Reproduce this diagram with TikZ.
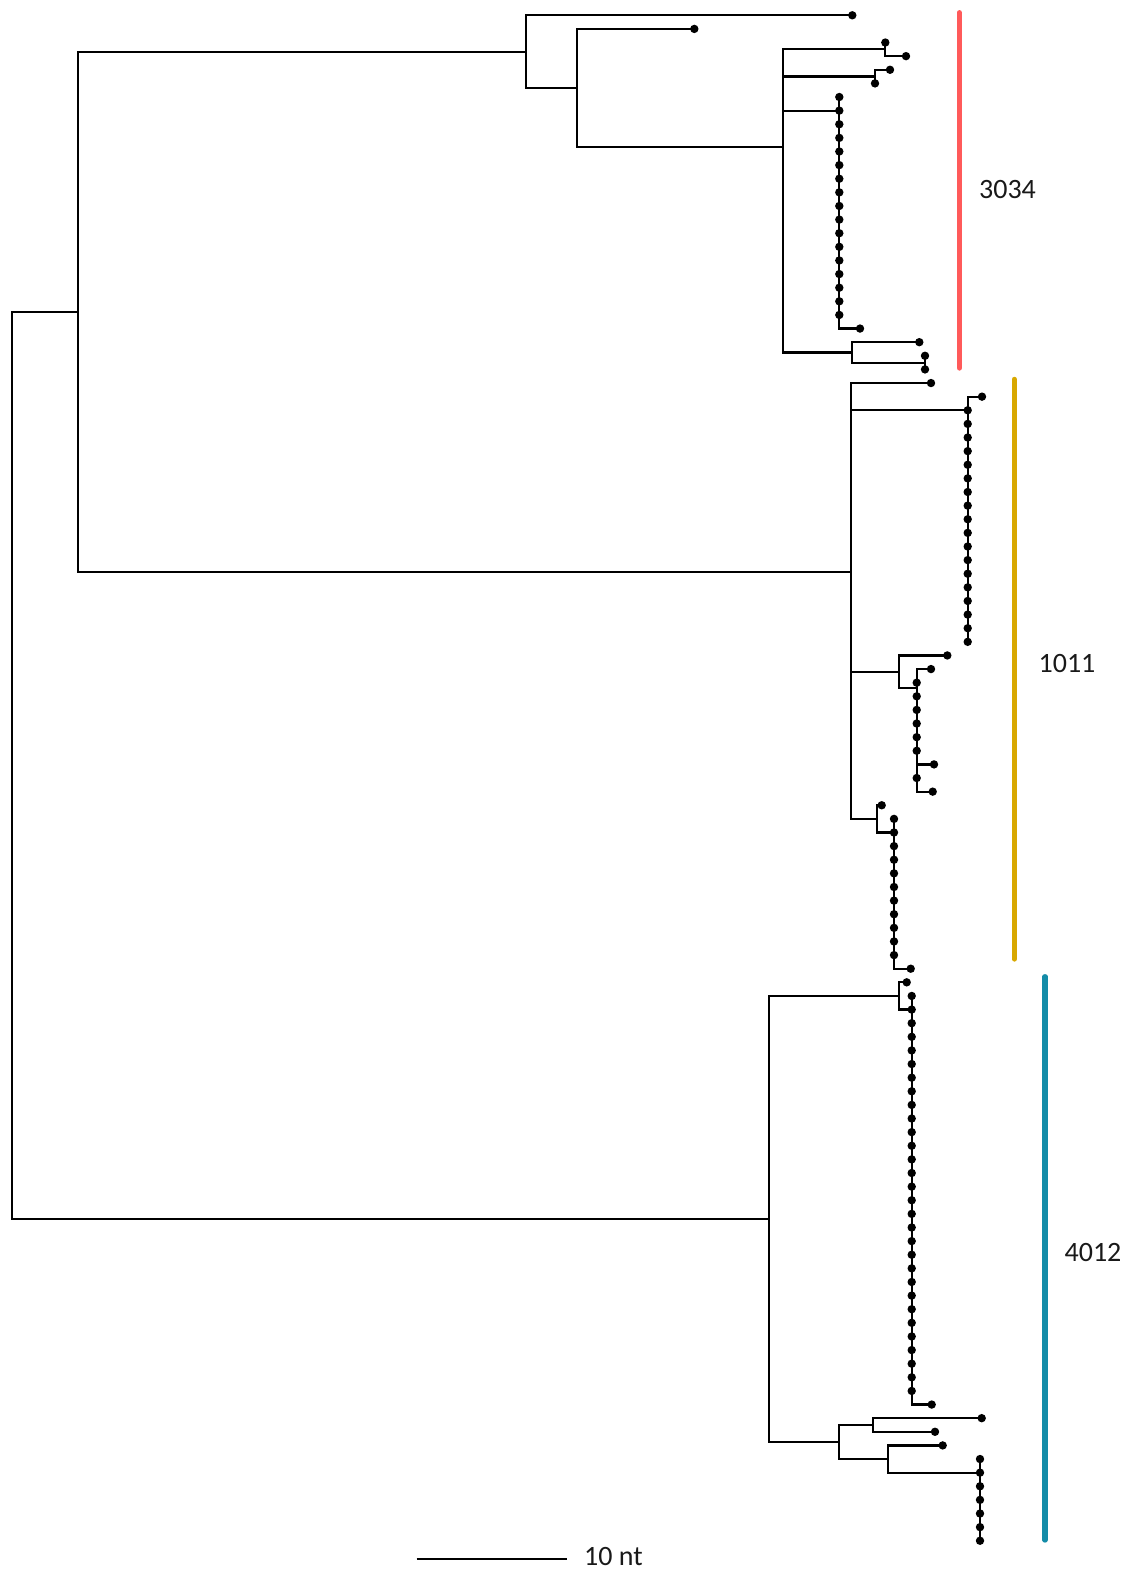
\documentclass[tikz,border=0pt]{standalone}
\usepackage{fontspec}
\setmainfont{Carlito}
\definecolor{cA}{RGB}{255,90,90}
\definecolor{cB}{RGB}{216,168,0}
\definecolor{cC}{RGB}{20,140,168}
\begin{document}
\begin{tikzpicture}[x=1pt,y=-1pt,
  br/.style={line width=2.2pt, line cap=rect},
  leaf/.style={circle, fill=black, inner sep=0pt, minimum size=8.4pt},
  bar/.style={line width=5.3pt, line cap=round},
  lab/.style={font=\fontsize{28}{32}\selectfont, text=black!90, inner sep=0pt}]
\useasboundingbox (0,0) rectangle (1130,1573);
\def\ly#1{(15.3+13.62*#1)}
% ---------- leaves
\node[leaf] (l0) at (852.3,{\ly{0}}) {};
\node[leaf] (l1) at (694.3,{\ly{1}}) {};
\node[leaf] (l2) at (885.3,{\ly{2}}) {};
\node[leaf] (l3) at (906,{\ly{3}}) {};
\node[leaf] (l4) at (890,{\ly{4}}) {};
\node[leaf] (l5) at (875,{\ly{5}}) {};
\foreach \i in {6,...,22} \node[leaf] (l\i) at (839.3,{\ly{\i}}) {};
\node[leaf] (l23) at (860,{\ly{23}}) {};
\node[leaf] (l24) at (919.3,{\ly{24}}) {};
\node[leaf] (l25) at (925,{\ly{25}}) {};
\node[leaf] (l26) at (925,{\ly{26}}) {};
\node[leaf] (l27) at (931,{\ly{27}}) {};
\node[leaf] (l28) at (982,{\ly{28}}) {};
\foreach \i in {29,...,46} \node[leaf] (l\i) at (967.7,{\ly{\i}}) {};
\node[leaf] (l47) at (947.3,{\ly{47}}) {};
\node[leaf] (l48) at (931,{\ly{48}}) {};
\foreach \i in {49,...,54} \node[leaf] (l\i) at (916.7,{\ly{\i}}) {};
\node[leaf] (l55) at (934,{\ly{55}}) {};
\node[leaf] (l56) at (916.7,{\ly{56}}) {};
\node[leaf] (l57) at (932.7,{\ly{57}}) {};
\node[leaf] (l58) at (881.7,{\ly{58}}) {};
\foreach \i in {59,...,69} \node[leaf] (l\i) at (894,{\ly{\i}}) {};
\node[leaf] (l70) at (910.7,{\ly{70}}) {};
\node[leaf] (l71) at (906.7,{\ly{71}}) {};
\foreach \i in {72,...,101} \node[leaf] (l\i) at (911.7,{\ly{\i}}) {};
\node[leaf] (l102) at (931.7,{\ly{102}}) {};
\node[leaf] (l103) at (981.7,{\ly{103}}) {};
\node[leaf] (l104) at (935,{\ly{104}}) {};
\node[leaf] (l105) at (942.7,{\ly{105}}) {};
\foreach \i in {106,...,112} \node[leaf] (l\i) at (980,{\ly{\i}}) {};
% ---------- internal nodes
\coordinate (root) at (11.7,765.3);
\coordinate (A) at (77.7,311.7);
\coordinate (B) at (526,51.65);
\coordinate (C) at (576.7,88);
\coordinate (D) at (783.3,147);
\coordinate (E) at (885.3,49.35);
\coordinate (F) at (875,76.6);
\coordinate (K1) at (839.3,110.64);
\coordinate (G) at (852.3,352.4);
\coordinate (H) at (925,362.61);
\coordinate (I) at (850.7,571.7);
\coordinate (Q) at (967.7,410.28);
\coordinate (J) at (898.7,671.6);
\coordinate (K) at (916.7,687.7);
\coordinate (L) at (877.3,819);
\coordinate (M) at (894,832.5);
\coordinate (N) at (769.3,1219);
\coordinate (O) at (899,995.94);
\coordinate (P) at (911.7,1009.56);
\coordinate (R) at (839,1442);
\coordinate (S) at (873.3,1424.97);
\coordinate (T) at (887.7,1459);
\coordinate (U) at (980,1472.64);
% ---------- branches between internal nodes
\foreach \p/\c in {root/A,root/N,A/B,A/I,B/C,C/D,D/E,D/F,D/K1,D/G,G/H,
                   I/Q,I/J,I/L,J/K,L/M,N/O,N/R,O/P,R/S,R/T,T/U}
  \draw[br] (\p) |- (\c);
% ---------- branches to leaves
\foreach \p/\c in {B/0,C/1,E/2,E/3,F/4,F/5,G/24,H/25,H/26,I/27,Q/28,J/47,
                   L/58,O/71,S/103,S/104,T/105}
  \draw[br] (\p) |- (l\c.center);
\foreach \i in {6,...,23} \draw[br] (K1) |- (l\i.center);
\foreach \i in {29,...,46} \draw[br] (Q) |- (l\i.center);
\foreach \i in {48,...,57} \draw[br] (K) |- (l\i.center);
\foreach \i in {59,...,70} \draw[br] (M) |- (l\i.center);
\foreach \i in {72,...,102} \draw[br] (P) |- (l\i.center);
\foreach \i in {106,...,112} \draw[br] (U) |- (l\i.center);
% ---------- cluster bars and labels
\draw[bar, cA] (959.3,12.7) -- (959.3,368);
\draw[bar, cB] (1014.3,379.4) -- (1014.3,959);
\draw[bar, cC] (1045,976.7) -- (1045,1540);
\node[lab] (t3034) at (1007.5,190) {3034};
\node[lab] (t1011) at (1067,664) {1011};
\node[lab] (t4012) at (1093,1252) {4012};
% ---------- scale bar
\coordinate (sb1) at (416.7,1559);
\coordinate (sb2) at (566.7,1559);
\draw[line width=2.2pt] (sb1) -- (sb2);
\node[lab, anchor=west] (sbl) at (584,1556) {10 nt};
\end{tikzpicture}
\end{document}
